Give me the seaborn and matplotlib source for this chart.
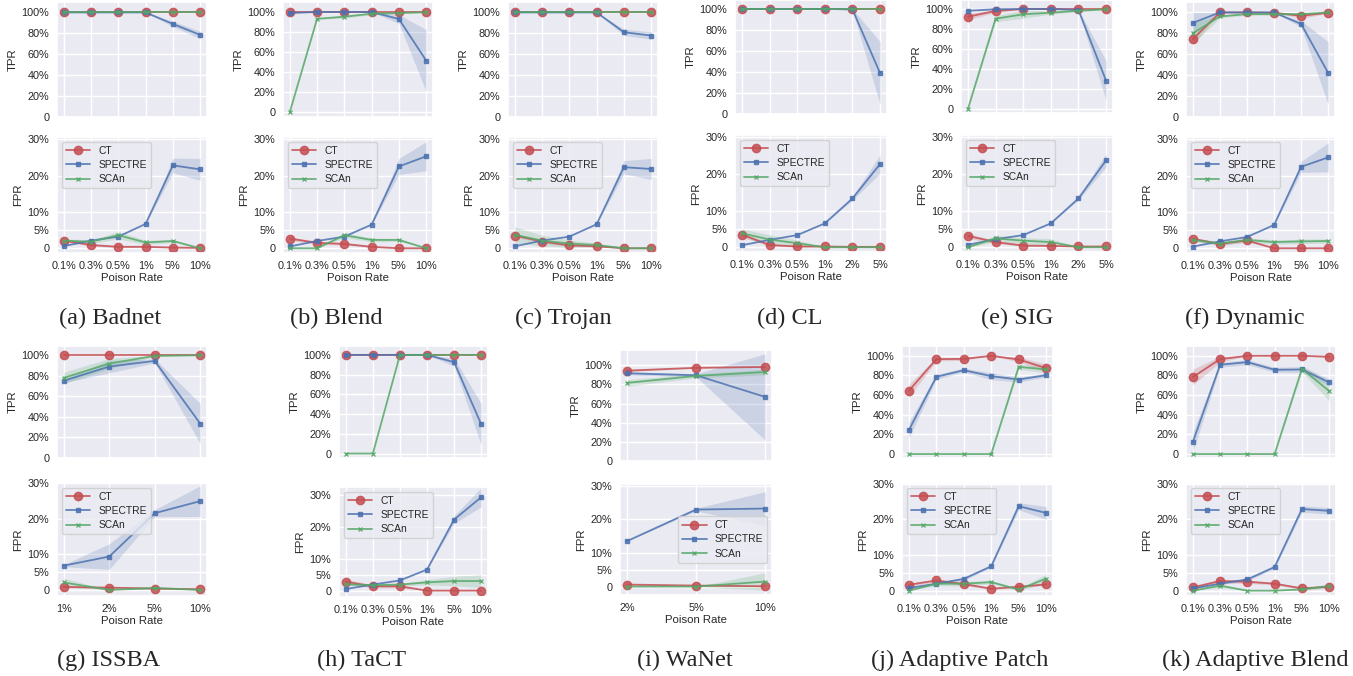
import pandas as pd
import matplotlib.pyplot as plt
import seaborn as sns
from matplotlib.ticker import FuncFormatter

# poison rates on the x axis
RATES_A = ['0.1%', '0.3%', '0.5%', '1%', '5%', '10%']
RATES_B = ['0.1%', '0.3%', '0.5%', '1%', '2%', '5%']
RATES_ISSBA = ['1%', '2%', '5%', '10%']
RATES_WANET = ['2%', '5%', '10%']

METHODS = ['CT', 'SPECTRE', 'SCAn']

# (a) Badnet
badnet_tpr = dict(CT=[100, 100, 100, 100, 100, 100], SPECTRE=[100, 100, 100, 100, 89, 78.5], SCAn=[100, 100, 100, 100, 100, 100])
badnet_tpr_err = dict(SPECTRE=[0, 0, 0, 0, 2.5, 3.5])
badnet_fpr = dict(CT=[2.1, 0.9, 0.4, 0.4, 0.2, 0.1], SPECTRE=[0.6, 2.1, 3.2, 6.7, 22.8, 21.7], SCAn=[2.1, 1.8, 3.6, 1.6, 2.0, 0])
badnet_fpr_err = dict(CT=[0.3, 0.3, 0.2, 0.2, 0.1, 0], SPECTRE=[0, 0, 0, 0, 2, 3], SCAn=[0.5, 0.5, 1, 0.6, 0.4, 0])

# (b) Blend
blend_tpr = dict(CT=[100, 100, 100, 100, 100, 100], SPECTRE=[99, 100, 100, 100, 93, 51.4], SCAn=[0, 93.2, 95.3, 98.3, 99, 99.7])
blend_tpr_err = dict(SPECTRE=[0.5, 0, 0, 0, 4.5, 31], SCAn=[0, 0.5, 1.5, 1, 0.5, 0])
blend_fpr = dict(CT=[2.65, 1.5, 1.2, 0.4, 0, 0], SPECTRE=[0.5, 2.0, 3.2, 6.5, 22.5, 25.3], SCAn=[0, 0, 3.6, 2.3, 2.3, 0])
blend_fpr_err = dict(CT=[0.5, 0.4, 0.3, 0.2, 0, 0], SPECTRE=[0, 0, 0, 0, 2.2, 4], SCAn=[0, 0, 0.7, 0.5, 0.4, 0])

# (c) Trojan
trojan_tpr = dict(CT=[100, 100, 100, 100, 100, 100], SPECTRE=[100, 100, 100, 100, 81.1, 77.9], SCAn=[100, 100, 100, 100, 100, 100])
trojan_tpr_err = dict(SPECTRE=[0, 0, 0, 0, 3, 3.5])
trojan_fpr = dict(CT=[3.5, 1.85, 0.8, 0.55, 0, 0], SPECTRE=[0.55, 2.1, 3.2, 6.6, 22.3, 21.8], SCAn=[3.7, 2.1, 1.3, 0.9, 0, 0])
trojan_fpr_err = dict(CT=[0.4, 0.4, 0.3, 0.2, 0, 0], SPECTRE=[0, 0, 0, 0, 1.8, 2.9], SCAn=[2.2, 1.5, 1, 0.5, 0, 0])

# (d) CL
cl_tpr = dict(CT=[100, 100, 100, 100, 100, 100], SPECTRE=[100, 100, 100, 100, 99.5, 38.9], SCAn=[100, 100, 100, 100, 100, 100])
cl_tpr_err = dict(SPECTRE=[0, 0, 0, 0, 0.5, 30])
cl_fpr = dict(CT=[3.45, 0.6, 0.2, 0.2, 0.1, 0.1], SPECTRE=[0.55, 2.0, 3.3, 6.5, 13.3, 22.7], SCAn=[3.8, 2.1, 1.1, 0, 0, 0])
cl_fpr_err = dict(CT=[0.5, 0.4, 0.2, 0.1, 0.1, 0.1], SPECTRE=[0, 0, 0, 0, 0.5, 2.5], SCAn=[1.2, 1.3, 0.9, 0, 0, 0])

# (e) SIG
sig_tpr = dict(CT=[92.3, 98, 100, 100, 100, 100], SPECTRE=[98.3, 99.7, 100, 100, 99, 28.3], SCAn=[0, 90.3, 94.7, 96.3, 98.3, 99.7])
sig_tpr_err = dict(CT=[3, 1.5, 0, 0, 0, 0], SPECTRE=[0.5, 0.3, 0, 0, 0.5, 20], SCAn=[0, 3, 4, 1.5, 1, 0.3])
sig_fpr = dict(CT=[3.1, 1.4, 0.45, 0.35, 0.2, 0.2], SPECTRE=[0.65, 2.2, 3.3, 6.5, 13.3, 23.7], SCAn=[0, 2.4, 1.8, 1.4, 0, 0])
sig_fpr_err = dict(CT=[0.7, 0.4, 0.2, 0.1, 0.1, 0.1], SPECTRE=[0, 0, 0, 0, 0.4, 1.8], SCAn=[0, 0.9, 0.8, 0.9, 0, 0])

# (f) Dynamic
dynamic_tpr = dict(CT=[74.4, 100, 100, 99.7, 96.8, 99.7], SPECTRE=[90, 100, 100, 100, 89, 42], SCAn=[80, 96.2, 98.4, 98.4, 98.4, 100])
dynamic_tpr_err = dict(CT=[5, 0, 0, 0, 2.5, 0.5], SPECTRE=[10, 0, 0, 0, 3, 30], SCAn=[10, 1.5, 1, 1, 1, 0])
dynamic_fpr = dict(CT=[2.6, 1.2, 2.15, 0, 0, 0], SPECTRE=[0.45, 1.9, 3.1, 6.4, 22.4, 25.0], SCAn=[2.3, 1.3, 2.3, 1.7, 1.9, 2.0])
dynamic_fpr_err = dict(CT=[0.4, 0.4, 0.4, 0, 0, 0], SPECTRE=[0, 0, 0, 0, 1.5, 4], SCAn=[0.5, 0.5, 0.6, 0.6, 0.6, 0.6])

# (g) ISSBA
issba_tpr = dict(CT=[100, 100, 100, 100], SPECTRE=[75.2, 89, 94.5, 33.5], SCAn=[78, 91.9, 99.4, 100])
issba_tpr_err = dict(SPECTRE=[2, 6, 2, 19.5], SCAn=[5.5, 5, 0.5, 0])
issba_fpr = dict(CT=[0.85, 0.65, 0.4, 0.2], SPECTRE=[6.85, 9.4, 21.6, 25.0], SCAn=[2.1, 0, 0.55, 0])
issba_fpr_err = dict(CT=[0.2, 0.3, 0.2, 0.1], SPECTRE=[0.3, 3.6, 1, 4.3], SCAn=[1.2, 0, 0.3, 0])

# (h) TaCT
tact_tpr = dict(CT=[100, 100, 100, 100, 100, 100], SPECTRE=[100, 100, 100, 100, 92.6, 29.6], SCAn=[0, 0, 100, 100, 100, 100])
tact_tpr_err = dict(SPECTRE=[0, 0, 0, 0, 4, 21])
tact_fpr = dict(CT=[2.8, 1.35, 1.35, 0, 0, 0], SPECTRE=[0.5, 1.9, 3.2, 6.6, 22.3, 29.3], SCAn=[2.0, 1.7, 1.9, 2.6, 3.0, 3.0])
tact_fpr_err = dict(CT=[0.8, 0.5, 0.5, 0, 0, 0], SPECTRE=[0, 0, 0, 0, 1.2, 3], SCAn=[0.4, 0.4, 0.4, 0.8, 1.5, 2])

# (i) WaNet
wanet_tpr = dict(CT=[94.4, 97.4, 98.3], SPECTRE=[91.7, 89.6, 67], SCAn=[81.6, 88.9, 93])
wanet_tpr_err = dict(CT=[1, 0.5, 0.5], SPECTRE=[1.5, 1.5, 45], SCAn=[3.5, 2, 3])
wanet_fpr = dict(CT=[0.6, 0.3, 0.1], SPECTRE=[13.5, 22.9, 23.2], SCAn=[0, 0, 1.5])
wanet_fpr_err = dict(CT=[0.2, 0.1, 0.1], SPECTRE=[0, 0.4, 5], SCAn=[0, 0, 2.6])

# (j) Adaptive Patch
apatch_tpr = dict(CT=[64.4, 96.6, 96.9, 100, 96.3, 87.5], SPECTRE=[24.4, 78.6, 85.4, 79.3, 75.9, 80.3], SCAn=[0, 0, 0, 0, 88.8, 86.1])
apatch_tpr_err = dict(CT=[6.5, 2, 1.5, 0, 2.5, 4], SPECTRE=[8, 2.5, 2, 3.5, 2.5, 2], SCAn=[0, 0, 0, 0, 2.5, 3.5])
apatch_fpr = dict(CT=[1.65, 2.85, 1.85, 0.55, 1.1, 1.75], SPECTRE=[0.75, 1.95, 3.3, 6.85, 23.7, 21.8], SCAn=[0, 1.95, 1.95, 2.4, 0.3, 3.4])
apatch_fpr_err = dict(CT=[0.4, 0.4, 0.4, 0.2, 0.3, 0.3], SPECTRE=[0.2, 0.3, 0.4, 0.3, 1, 1.8], SCAn=[0, 0.5, 0.7, 0.4, 0.3, 1.2])

# (k) Adaptive Blend
ablend_tpr = dict(CT=[78.4, 96.6, 100, 100, 100, 99], SPECTRE=[12.2, 90.9, 93.6, 85.8, 86.1, 73], SCAn=[0, 0, 0, 0, 86.8, 64.2])
ablend_tpr_err = dict(CT=[8, 3, 0, 0, 0, 0.5], SPECTRE=[10, 2.5, 2.5, 2.5, 3, 3.5], SCAn=[0, 0, 0, 0, 3, 10])
ablend_fpr = dict(CT=[0.9, 2.7, 2.5, 1.95, 0.65, 1.1], SPECTRE=[0.65, 1.95, 3.15, 6.65, 22.9, 22.4], SCAn=[0, 1.4, 0, 0, 0.35, 1.3])
ablend_fpr_err = dict(CT=[0.5, 0.5, 0.5, 0.3, 0.3, 0.3], SPECTRE=[0.2, 0.3, 0.4, 0.4, 0.9, 0.9], SCAn=[0, 0.5, 0, 0, 0.3, 0.6])

PANELS = [
    ('(a) Badnet', RATES_A, badnet_tpr, badnet_tpr_err, badnet_fpr, badnet_fpr_err),
    ('(b) Blend', RATES_A, blend_tpr, blend_tpr_err, blend_fpr, blend_fpr_err),
    ('(c) Trojan', RATES_A, trojan_tpr, trojan_tpr_err, trojan_fpr, trojan_fpr_err),
    ('(d) CL', RATES_B, cl_tpr, cl_tpr_err, cl_fpr, cl_fpr_err),
    ('(e) SIG', RATES_B, sig_tpr, sig_tpr_err, sig_fpr, sig_fpr_err),
    ('(f) Dynamic', RATES_A, dynamic_tpr, dynamic_tpr_err, dynamic_fpr, dynamic_fpr_err),
    ('(g) ISSBA', RATES_ISSBA, issba_tpr, issba_tpr_err, issba_fpr, issba_fpr_err),
    ('(h) TaCT', RATES_A, tact_tpr, tact_tpr_err, tact_fpr, tact_fpr_err),
    ('(i) WaNet', RATES_WANET, wanet_tpr, wanet_tpr_err, wanet_fpr, wanet_fpr_err),
    ('(j) Adaptive Patch', RATES_A, apatch_tpr, apatch_tpr_err, apatch_fpr, apatch_fpr_err),
    ('(k) Adaptive Blend', RATES_A, ablend_tpr, ablend_tpr_err, ablend_fpr, ablend_fpr_err),
]

# layout in pixels: x-left, x-right, tpr box (top, bottom), fpr box, caption x, caption y
LAYOUT = [
    (57, 207, (2, 117), (137, 253), 110, 318),
    (283, 433, (2, 117), (137, 253), 336, 318),
    (508, 658, (2, 117), (137, 253), 563, 318),
    (735, 887, (0, 114), (135, 252), 790, 318),
    (961, 1113, (0, 113), (135, 252), 1017, 318),
    (1186, 1335, (2, 117), (137, 253), 1245, 318),
    (57, 207, (346, 458), (483, 596), 109, 660),
    (339, 488, (346, 458), (487, 597), 362, 660),
    (620, 772, (350, 461), (484, 595), 685, 660),
    (902, 1053, (346, 458), (483, 596), 960, 660),
    (1186, 1336, (346, 458), (483, 596), 1255, 660),
]
TPR_LIMS = [(0, 110), (-5, 110), (0, 110), (0, 108.5), (-4, 109), (0, 110),
            (0, 109), (-4.5, 109), (0, 116), (-4, 110), (-4, 110)]
FPR_LIMS = [(-1.3, 30.6)] * 6 + [(-1.7, 30.1), (-2, 32.5), (-2.5, 30.5), (-1.5, 30.2), (-1.5, 30.2)]

sns.set_theme(style='darkgrid')
plt.rcParams['font.family'] = ['Liberation Sans', 'DejaVu Sans']
plt.rcParams['xtick.labelsize'] = 7.8
plt.rcParams['ytick.labelsize'] = 7.8
plt.rcParams['axes.labelsize'] = 8.2

pal = sns.color_palette('deep')
COLORS = {'CT': pal[3], 'SPECTRE': pal[0], 'SCAn': pal[2]}
MARKERS = {'CT': 'o', 'SPECTRE': 's', 'SCAn': 'x'}
MSIZE = {'CT': 6, 'SPECTRE': 3, 'SCAn': 3}

W, H = 1353, 676
fig = plt.figure(figsize=(W / 100, H / 100), dpi=100)


def pct(v, pos):
    return '0' if abs(v) < 1e-9 else '%g%%' % v


def box(x0, x1, y0, y1):
    return [x0 / W, 1 - y1 / H, (x1 - x0) / W, (y1 - y0) / H]


def draw(ax, rates, vals, errs):
    for m in METHODS:
        df = pd.DataFrame({'rate': rates, 'value': vals[m]})
        sns.lineplot(data=df, x='rate', y='value', ax=ax, sort=False, color=COLORS[m],
                     marker=MARKERS[m], markersize=MSIZE[m], mec=COLORS[m], mew=1,
                     lw=1.3, alpha=0.85, label=m)
        if m in errs:
            lo = [v - e for v, e in zip(vals[m], errs[m])]
            hi = [v + e for v, e in zip(vals[m], errs[m])]
            ax.fill_between(rates, lo, hi, color=COLORS[m], alpha=0.2, lw=0)


for i, (cap, rates, tpr, tpr_err, fpr, fpr_err) in enumerate(PANELS):
    x0, x1, tb, fb, cx, cy = LAYOUT[i]
    aw = x1 - x0

    ax1 = fig.add_axes(box(x0, x1, *tb))
    draw(ax1, rates, tpr, tpr_err)
    ax1.set_ylim(*TPR_LIMS[i])
    ax1.set_yticks([0, 20, 40, 60, 80, 100])
    ax1.yaxis.set_major_formatter(FuncFormatter(pct))
    ax1.tick_params(labelbottom=False, length=0, pad=5.5)
    ax1.set_xlabel('')
    ax1.set_ylabel('TPR')
    ax1.yaxis.set_label_coords(-39 / aw, 0.5)
    if ax1.get_legend():
        ax1.get_legend().remove()

    ax2 = fig.add_axes(box(x0, x1, *fb))
    draw(ax2, rates, fpr, fpr_err)
    ax2.set_ylim(*FPR_LIMS[i])
    ax2.set_yticks([0, 5, 10, 20, 30])
    ax2.yaxis.set_major_formatter(FuncFormatter(pct))
    ax2.tick_params(length=0, pad=5.5)
    ax2.set_xlabel('Poison Rate', labelpad=2)
    ax2.set_ylabel('FPR')
    ax2.yaxis.set_label_coords(-34 / aw, 0.5)
    ax2.legend(loc='center right' if cap == '(i) WaNet' else 'upper left',
               fontsize=7.4, handlelength=2.4, labelspacing=0.42, borderaxespad=0.45)

    fig.text(cx / W, 1 - cy / H, cap, ha='center', va='center',
             family='Liberation Serif', fontsize=17.5)

plt.savefig('out.png', dpi=100)
